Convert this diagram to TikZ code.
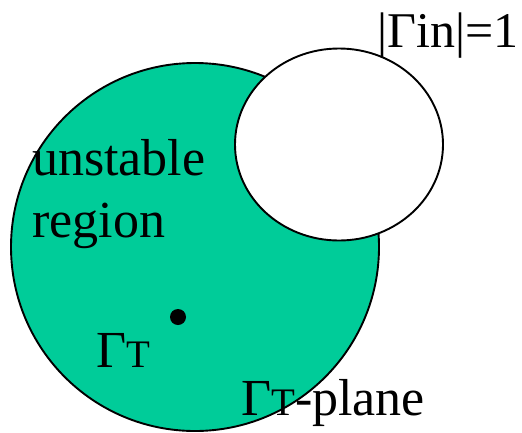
\documentclass[tikz,border=0pt]{standalone}
\usepackage{fontspec}
\setmainfont{Liberation Serif}
\usetikzlibrary{shapes.geometric}
\definecolor{sgreen}{RGB}{0,204,153}
\newcommand{\smT}{{\fontsize{39}{39}\selectfont T}}
\begin{document}
\begin{tikzpicture}[x=1pt,y=-1pt,
  lbl/.style={inner sep=0pt, anchor=base west, font=\fontsize{52}{62}\selectfont},
  outline/.style={draw=black, line width=1.9pt, inner sep=0pt}]
\useasboundingbox (0,0) rectangle (522,432);
\node[circle, outline, fill=sgreen, minimum size=368pt] (plane) at (195,247) {};
\node[ellipse, outline, fill=white, minimum width=208pt, minimum height=192pt] (unit) at (339,144.5) {};
\node[circle, fill=black, inner sep=0pt, minimum size=16pt] (dot) at (178,317) {};
\node[lbl] (unstable) at (32,175) {unstable};
\node[lbl] (region) at (32,237) {region};
\node[lbl] (gt) at (96,367) {Γ\smT};
\node[lbl] (gtplane) at (241,415) {Γ\smT-plane};
\node[lbl, anchor=base east, font=\fontsize{50}{60}\selectfont] (gin) at (519,47) {|Γin|=1};
\end{tikzpicture}
\end{document}
